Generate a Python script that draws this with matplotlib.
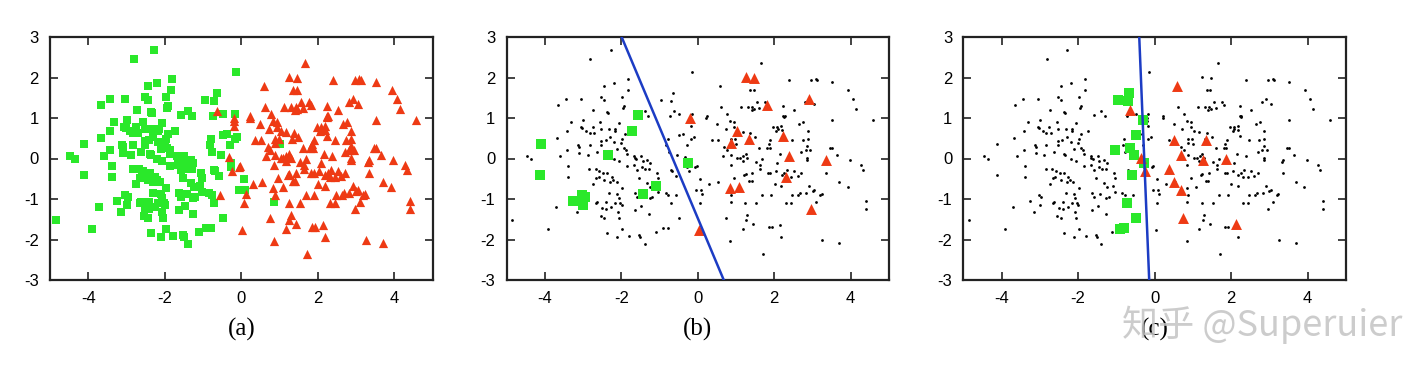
import matplotlib
matplotlib.use("Agg")
import matplotlib.pyplot as plt

plt.rcParams["axes.unicode_minus"] = False

# ---------------- data ----------------
green_pts = [
    (-2.28, 2.67), (-2.81, 2.46), (-2.44, 1.80), (-2.19, 1.86), (-1.82, 1.97), (-1.83, 1.70),
    (-3.44, 1.48), (-3.66, 1.33), (-3.05, 1.48), (-2.52, 1.51), (-2.45, 1.45), (-1.98, 1.53),
    (-1.92, 1.29), (-1.95, 1.24), (-2.73, 1.19), (-2.36, 1.15), (-2.34, 1.12), (-1.39, 1.18),
    (-1.29, 1.04), (-3.32, 0.89), (-3.00, 0.95), (-3.42, 0.69), (-3.06, 0.79), (-3.02, 0.75),
    (-2.92, 0.69), (-2.75, 0.79), (-2.83, 0.63), (-2.71, 0.63), (-2.56, 0.91), (-2.52, 0.73),
    (-2.32, 0.73), (-2.16, 0.73), (-2.17, 0.68), (-2.06, 0.87), (-1.91, 0.61), (-2.30, 0.54),
    (-2.52, 0.44), (-3.67, 0.50), (-3.13, 0.34), (-3.10, 0.29), (-2.83, 0.33), (-2.52, 0.33),
    (-2.41, 0.46), (-2.18, 0.40), (-2.00, 0.38), (-1.97, 0.48), (-2.11, 0.23), (-1.93, 0.26),
    (-1.87, 0.21), (-3.42, 0.20), (-3.60, 0.07), (-4.47, 0.05), (-4.35, -0.02), (-3.10, 0.13),
    (-2.88, 0.08), (-2.63, 0.15), (-2.38, 0.12), (-2.19, -0.02), (-2.06, -0.06), (-1.85, 0.12),
    (-1.67, 0.07), (-1.65, 0.02), (-1.61, 0.00), (-1.49, 0.07), (-1.44, -0.07), (-1.32, -0.03),
    (-1.25, -0.12), (-3.39, -0.18), (-3.38, -0.45), (-2.84, -0.25), (-2.67, -0.26), (-2.57, -0.30),
    (-2.47, -0.36), (-2.38, -0.37), (-2.59, -0.45), (-2.66, -0.47), (-2.74, -0.63), (-2.45, -0.54),
    (-2.30, -0.57), (-2.21, -0.54), (-2.12, -0.59), (-2.25, -0.46), (-1.98, -0.73), (-1.85, -0.18),
    (-1.66, -0.15), (-1.58, -0.28), (-1.46, -0.21), (-1.37, -0.26), (-1.28, -0.25), (-1.53, -0.49),
    (-1.32, -0.61), (-1.24, -0.71), (-1.06, -0.36), (-1.03, -0.48), (-1.63, -0.86), (-1.58, -0.94),
    (-1.26, -0.98), (-1.20, -0.94), (-1.03, -0.83), (-2.32, -0.86), (-2.10, -0.88), (-2.07, -0.98),
    (-1.99, -1.15), (-2.02, -1.10), (-2.63, -1.08), (-2.66, -1.11), (-2.40, -1.07), (-2.17, -1.10),
    (-3.15, -1.32), (-3.71, -1.19), (-2.51, -1.23), (-2.40, -1.25), (-2.26, -1.20), (-2.08, -1.33),
    (-2.54, -1.42), (-2.44, -1.47), (-2.05, -1.47), (-1.63, -1.27), (-1.48, -1.17), (-1.27, -1.38),
    (-1.97, -1.75), (-2.37, -1.85), (-2.10, -1.93), (-1.79, -1.91), (-1.53, -1.88), (-1.50, -1.93),
    (-1.39, -2.10), (-1.10, -1.82), (-0.91, -1.72), (-4.85, -1.52), (-3.91, -1.75),
    (-4.11, 0.35), (-4.12, -0.40), (-3.26, -1.04), (-3.03, -0.91), (-2.96, -0.96), (-2.99, -1.15),
    (-2.35, 0.08), (-1.73, 0.67), (-1.57, 1.07), (-1.43, -0.87), (-1.09, -0.67),
    (-0.64, 1.62), (-0.70, 1.41), (-0.95, 1.45), (-0.73, 1.05), (-0.49, 1.09), (-0.38, 0.60),
    (-0.48, 0.57), (-0.79, 0.49), (-0.82, 0.33), (-0.76, 0.15), (-0.54, 0.08), (-0.57, -0.42),
    (-0.70, -0.28), (-0.68, -0.32), (-0.84, -0.86), (-0.77, -0.91), (-0.70, -1.10), (-0.48, -1.46),
    (-0.78, -1.71), (-0.15, 2.13), (-0.16, 1.10), (-0.10, 0.54), (-0.17, 0.47), (-0.29, 0.34),
    (-0.26, -0.10), (-0.28, -0.20), (0.07, -0.50), (-0.05, -0.79), (0.09, -0.79),
    (1.01, 0.36), (0.86, -1.08),
]
red_pts = [
    (1.66, 2.37), (0.59, 1.78), (1.36, 1.69), (1.46, 1.68), (2.39, 1.94), (2.97, 1.93), (3.09, 1.97),
    (3.13, 1.94), (3.52, 1.89), (3.94, 1.70), (4.06, 1.48), (4.14, 1.23), (0.62, 1.26), (0.77, 1.09),
    (0.84, 0.92), (0.94, 0.91), (1.13, 1.26), (1.31, 1.28), (1.43, 1.26), (1.47, 1.22), (1.61, 1.24),
    (1.55, 1.40), (1.77, 1.40), (1.41, 1.20), (2.24, 1.30), (2.24, 1.05), (2.27, 1.04), (2.25, 1.02),
    (2.52, 1.19), (2.81, 1.39), (3.05, 1.35), (3.52, 0.95), (4.58, 0.96), (0.22, 1.00), (0.50, 0.84),
    (0.37, 0.46), (0.52, 0.45), (0.66, 0.07), (0.69, 0.28), (0.76, 0.22), (0.87, 0.09), (0.73, 0.73),
    (0.88, 0.49), (0.98, 0.49), (0.86, -0.15), (1.03, 0.01), (1.10, 0.02), (1.18, 0.07), (1.25, 0.10),
    (1.29, 0.02), (1.17, -0.05), (1.22, -0.41), (1.25, -0.38), (0.96, -0.47), (0.87, -0.91),
    (0.74, -1.47), (0.85, -2.03), (1.17, -1.73), (1.26, -1.52), (1.30, -1.39), (1.44, -1.62),
    (1.24, -1.10), (1.34, -0.55), (1.41, -0.55), (1.42, -0.36), (1.53, -0.08), (1.63, -0.15),
    (1.61, 0.27), (1.81, 0.26), (1.88, 0.26), (1.85, 0.36), (1.49, 0.53), (1.37, 0.63), (1.17, 0.66),
    (0.94, 0.79), (1.69, -0.02), (1.64, -0.26), (1.83, -0.36), (1.90, -0.36), (1.68, -0.90),
    (1.91, -0.91), (1.53, -1.09), (1.85, -1.68), (1.93, -1.68), (2.18, -1.93), (2.14, -1.64),
    (1.71, -2.36), (1.98, 0.79), (2.08, 0.79), (2.09, 0.74), (2.05, 0.68), (2.18, 0.81), (2.19, 0.71),
    (1.90, 0.46), (2.16, 0.10), (2.08, -0.12), (2.04, -0.30), (2.19, -0.40), (2.26, -0.36),
    (2.34, -0.28), (2.44, -0.45), (2.52, -0.32), (2.61, -0.42), (2.71, -0.37), (2.18, -0.69),
    (2.01, -0.63), (2.32, -1.09), (2.44, -1.09), (2.47, -0.91), (2.63, -0.91), (2.68, -0.86),
    (2.83, -0.84), (2.92, -0.69), (3.00, -0.80), (3.04, -0.77), (3.10, -1.07), (3.19, -0.91),
    (3.24, -0.87), (2.86, 0.31), (2.74, 0.46), (2.87, 0.49), (2.87, 0.67), (2.76, 0.89), (2.66, 0.86),
    (2.46, 0.46), (2.71, 0.16), (2.82, 0.20), (2.94, 0.20), (2.86, 0.02), (2.86, -0.03), (3.46, 0.25),
    (3.52, 0.26), (3.65, 0.09), (3.35, -0.36), (3.32, -0.09), (3.70, -0.59), (3.92, -0.70),
    (3.98, -0.04), (4.27, -0.16), (4.33, -0.28), (4.40, -1.04), (4.41, -1.24), (3.25, -2.01),
    (3.70, -2.08), (0.07, -1.10),
    (1.25, 2.01), (1.47, 1.98), (1.82, 1.32), (1.03, 0.69), (0.87, 0.38), (1.33, 0.49), (2.24, 0.56),
    (2.38, 0.05), (2.32, -0.45), (0.84, -0.73), (1.09, -0.71), (2.91, 1.48), (3.35, -0.04),
    (2.97, -1.25),
    (-0.63, 1.18), (-0.56, -0.91), (-0.24, -0.31), (-0.33, 0.03), (-0.06, -0.21), (-0.03, -0.18),
    (-0.19, 1.00), (-0.20, 0.92), (-0.18, 0.80), (0.12, -0.87), (0.03, -1.76), (0.30, -0.64),
    (0.54, -0.59), (0.23, 1.04),
]
green_x = [p[0] for p in green_pts]
green_y = [p[1] for p in green_pts]
red_x = [p[0] for p in red_pts]
red_y = [p[1] for p in red_pts]

# labelled points shown in panel (b)
b_green_x = [-4.11, -4.12, -3.26, -3.03, -2.96, -2.99, -2.35, -1.73, -1.57, -1.43, -1.09, -0.26]
b_green_y = [0.35, -0.40, -1.04, -0.91, -0.96, -1.15, 0.08, 0.67, 1.07, -0.87, -0.67, -0.10]
b_red_x = [-0.19, 0.03, 1.25, 1.47, 1.82, 1.03, 0.87, 1.33, 2.24, 2.38, 2.32, 0.84, 1.09, 2.91, 3.35, 2.97]
b_red_y = [1.00, -1.76, 2.01, 1.98, 1.32, 0.69, 0.38, 0.49, 0.56, 0.05, -0.45, -0.73, -0.71, 1.48, -0.04, -1.25]
b_line_x = [-1.99, 0.68]
b_line_y = [3.0, -3.0]

# labelled points shown in panel (c)
c_green_x = [-0.96, -0.69, -0.66, -1.03, -0.64, -0.60, -0.73, -0.90, -0.80, -0.30, -0.49, -0.55, -0.27, -0.49]
c_green_y = [1.45, 1.42, 1.61, 0.21, 0.26, -0.41, -1.09, -1.73, -1.72, 0.96, 0.59, 0.09, -0.10, -1.46]
c_red_x = [0.59, -0.63, 0.50, 1.34, 0.68, 1.27, 1.86, 0.37, 0.52, 0.70, 0.74, 2.14, -0.35, -0.24]
c_red_y = [1.80, 1.20, 0.46, 0.46, 0.09, -0.03, 0.00, -0.26, -0.58, -0.79, -1.46, -1.62, 0.02, -0.30]
c_line_x = [-0.40, -0.14]
c_line_y = [3.0, -3.0]

ticks_x = [-4, -2, 0, 2, 4]
ticks_y = [-3, -2, -1, 0, 1, 2, 3]
panel_labels = ["(a)", "(b)", "(c)"]

GREEN = "#2ae82a"
RED = "#ee3a14"
BLUE = "#1c3cc4"

# ---------------- figure ----------------
fig = plt.figure(figsize=(14.18, 3.84), dpi=100)
W, H = 1418, 384
lefts = [50, 506.5, 963.3]
axes = []
for l in lefts:
    ax = fig.add_axes([l / W, (384 - 280) / H, 382.5 / W, 243 / H])
    axes.append(ax)

all_x = green_x + red_x
all_y = green_y + red_y

# (a)
axes[0].scatter(green_x, green_y, marker="s", s=32, c=GREEN, linewidths=0, zorder=3)
axes[0].scatter(red_x, red_y, marker="^", s=44, c=RED, linewidths=0, zorder=3)

# (b)
axes[1].scatter(all_x, all_y, marker="o", s=4, c="black", linewidths=0, zorder=2)
axes[1].plot(b_line_x, b_line_y, color=BLUE, lw=1.8, zorder=4)
axes[1].scatter(b_green_x, b_green_y, marker="s", s=52, c=GREEN, linewidths=0, zorder=3)
axes[1].scatter(b_red_x, b_red_y, marker="^", s=62, c=RED, linewidths=0, zorder=3)

# (c)
axes[2].scatter(all_x, all_y, marker="o", s=4, c="black", linewidths=0, zorder=2)
axes[2].plot(c_line_x, c_line_y, color=BLUE, lw=1.8, zorder=4)
axes[2].scatter(c_green_x, c_green_y, marker="s", s=52, c=GREEN, linewidths=0, zorder=3)
axes[2].scatter(c_red_x, c_red_y, marker="^", s=62, c=RED, linewidths=0, zorder=3)

for ax, lab in zip(axes, panel_labels):
    ax.set_xlim(-5, 5)
    ax.set_ylim(-3, 3)
    ax.set_xticks(ticks_x)
    ax.set_yticks(ticks_y)
    ax.tick_params(direction="in", length=6, width=1.2, top=True, right=True,
                   labelsize=12, colors="#222222", pad=8)
    for lbl in ax.get_xticklabels() + ax.get_yticklabels():
        lbl.set_fontfamily("Liberation Sans")
        lbl.set_color("black")
    for sp in ax.spines.values():
        sp.set_linewidth(1.6)
        sp.set_color("#222222")
    ax.text(0.5, -0.205, lab, transform=ax.transAxes, ha="center", va="center",
            fontsize=18, family="Liberation Serif")

fig.text(1262 / W, 1 - 325 / H, "知乎 @Superuier", ha="center", va="center",
         fontsize=26, color="#c4c4c4", alpha=0.85,
         family=["Noto Sans CJK SC", "DejaVu Sans"], zorder=10)

fig.savefig("out.png", dpi=100)
